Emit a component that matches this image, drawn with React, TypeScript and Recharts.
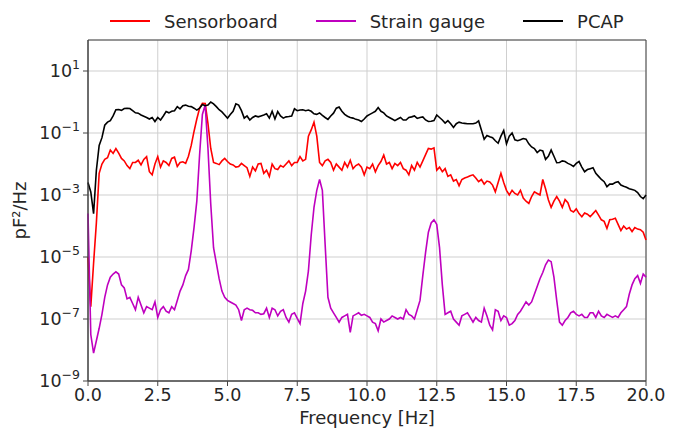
import React from "react";
import {
  LineChart,
  Line,
  XAxis,
  YAxis,
  CartesianGrid,
  ReferenceArea,
} from "recharts";

// power spectral density, stored as log10(pF^2/Hz), sampled every 0.1 Hz from 0 to 20 Hz
const FREQ_STEP = 0.1;

const SENSOR_LOG = [
  -5.0, -6.6, -5.2, -3.9, -2.3, -2.0, -1.85, -1.8, -1.55, -1.66,
  -1.5, -1.65, -1.82, -1.9, -2.05, -2.15, -1.95, -1.95, -1.88, -2.03,
  -1.85, -1.76, -2.25, -2.35, -2.0, -1.76, -2.1, -1.9, -1.95, -2.05,
  -1.82, -1.78, -2.08, -1.95, -1.93, -1.98, -1.75, -1.4, -0.95, -0.55,
  -0.2, -0.04, -0.05, -0.7, -1.5, -1.95, -1.98, -2.02, -1.9, -1.82,
  -1.92, -2.0, -2.03, -2.1, -2.08, -1.98, -2.05, -2.12, -2.4, -2.1,
  -2.22, -2.0, -1.98, -2.3, -2.2, -2.4, -2.0, -2.15, -2.18, -2.05,
  -2.1, -2.0, -1.9, -2.05, -1.95, -1.95, -1.76, -1.9, -1.85, -1.1,
  -0.9, -0.65, -1.1, -1.95, -2.05, -1.9, -1.85, -1.95, -2.2, -2.0,
  -2.1, -2.2, -1.95, -2.1, -1.88, -2.15, -2.05, -2.0, -2.1, -2.35,
  -2.1, -2.15, -2.0, -2.25, -2.05, -1.92, -1.71, -2.0, -1.95, -2.15,
  -1.98, -2.05, -1.95, -2.15, -2.2, -2.35, -2.05, -2.2, -1.95, -2.1,
  -1.9, -1.7, -1.5, -1.52, -1.48, -2.2, -2.1, -2.25, -2.15, -2.4,
  -2.35, -2.55, -2.5, -2.7, -2.5, -2.45, -2.42, -2.38, -2.35, -2.45,
  -2.57, -2.5, -2.65, -2.55, -2.58, -2.68, -2.9, -2.6, -2.3, -2.6,
  -2.85, -3.0, -2.85, -2.95, -3.0, -2.85, -3.1, -3.2, -3.27, -3.05,
  -2.9, -2.95, -3.0, -2.5, -2.8, -3.15, -3.4, -3.2, -3.05, -3.2,
  -3.4, -3.15, -3.25, -3.5, -3.55, -3.45, -3.6, -3.7, -3.58, -3.62,
  -3.7, -3.6, -3.5, -3.65, -3.8, -3.85, -4.08, -3.8, -3.78, -3.75,
  -3.95, -4.15, -4.0, -4.1, -4.05, -4.18, -4.05, -4.1, -4.12, -4.2,
  -4.45,
];

const STRAIN_LOG = [
  -3.6, -7.5, -8.1, -7.7, -7.3, -6.85, -6.3, -5.9, -5.65, -5.55,
  -5.48, -5.55, -5.9, -6.0, -6.35, -6.3, -6.5, -6.7, -6.3, -6.55,
  -6.8, -6.6, -6.65, -6.7, -6.45, -6.95, -6.7, -6.6, -6.75, -6.8,
  -6.6, -6.7, -6.4, -6.1, -5.9, -5.6, -5.4, -4.8, -4.05, -3.2,
  -1.7, -0.4, -0.1, -1.5, -3.3, -4.7, -5.2, -5.7, -6.1, -6.3,
  -6.4, -6.45, -6.5, -6.55, -6.7, -7.05, -6.7, -6.65, -6.7, -6.72,
  -6.8, -6.8, -6.85, -6.83, -6.65, -6.95, -6.65, -6.7, -6.9, -6.75,
  -6.7, -6.95, -7.1, -6.85, -6.8, -6.98, -7.15, -6.5, -6.1, -5.45,
  -4.3, -3.4, -2.85, -2.5, -2.85, -4.6, -6.3, -6.65, -6.8, -6.95,
  -7.1, -6.95, -6.9, -6.85, -7.43, -6.9, -6.85, -6.8, -6.88, -6.85,
  -6.9, -6.95, -7.1, -7.15, -7.38, -7.0, -7.1, -7.05, -7.0, -6.9,
  -6.95, -7.0, -6.95, -7.0, -6.7, -6.85, -6.9, -7.0, -6.7, -6.4,
  -5.6, -4.85, -4.2, -3.9, -3.8, -3.95, -4.7, -5.9, -6.85, -6.8,
  -6.75, -7.0, -7.1, -7.2, -6.9, -6.85, -6.8, -6.95, -7.1, -6.95,
  -7.05, -7.1, -6.65, -6.9, -7.2, -7.35, -6.7, -6.75, -7.05, -6.9,
  -6.95, -7.2, -7.15, -7.05, -6.85, -6.75, -6.6, -6.45, -6.55, -6.45,
  -6.2, -5.95, -5.7, -5.5, -5.25, -5.1, -5.15, -5.65, -6.4, -7.1,
  -7.2, -7.05, -6.95, -6.8, -6.75, -6.85, -6.9, -6.85, -6.95, -6.95,
  -6.8, -6.8, -6.95, -6.75, -6.9, -6.95, -6.85, -6.9, -6.95, -6.9,
  -6.95, -6.8, -6.7, -6.6, -6.2, -5.9, -5.7, -5.6, -5.85, -5.55,
  -5.65,
];

const PCAP_LOG = [
  -2.6, -2.9, -3.6, -2.2, -1.4, -1.15, -0.75, -0.65, -0.6, -0.45,
  -0.25, -0.24, -0.27, -0.21, -0.2, -0.21, -0.28, -0.35, -0.36, -0.42,
  -0.46, -0.5, -0.55, -0.5, -0.63, -0.5, -0.58, -0.45, -0.31, -0.35,
  -0.3, -0.28, -0.15, -0.22, -0.12, -0.1, -0.14, -0.15, -0.2, -0.26,
  -0.2, -0.08, -0.12, -0.1, 0.0, -0.06, -0.15, -0.25, -0.32, -0.42,
  -0.52, -0.4, -0.3, -0.06, -0.1, -0.28, -0.52, -0.45, -0.58, -0.5,
  -0.45, -0.48, -0.45, -0.42, -0.38, -0.52, -0.3, -0.55, -0.31, -0.45,
  -0.52, -0.48, -0.47, -0.45, -0.22, -0.28, -0.26, -0.25, -0.28, -0.26,
  -0.3, -0.38, -0.4, -0.35, -0.43, -0.5, -0.56, -0.45, -0.36, -0.2,
  -0.16, -0.3, -0.4, -0.46, -0.5, -0.52, -0.56, -0.58, -0.63, -0.55,
  -0.45, -0.4, -0.35, -0.3, -0.18, -0.3, -0.35, -0.45, -0.5, -0.55,
  -0.6, -0.55, -0.5, -0.58, -0.58, -0.5, -0.48, -0.45, -0.53, -0.5,
  -0.48, -0.58, -0.63, -0.62, -0.6, -0.42, -0.5, -0.58, -0.68, -0.6,
  -0.7, -0.82, -0.7, -0.65, -0.68, -0.69, -0.7, -0.7, -0.7, -0.68,
  -0.61, -0.9, -1.2, -1.08, -1.12, -1.15, -1.25, -1.33, -1.1, -0.92,
  -1.35, -1.1, -1.0, -1.22, -1.25, -1.22, -1.18, -1.2, -1.35, -1.45,
  -1.5, -1.63, -1.55, -1.58, -1.85, -1.75, -1.55, -1.75, -1.96, -1.95,
  -1.9, -1.92, -1.98, -2.02, -2.08, -1.98, -1.92, -2.1, -2.25, -2.18,
  -2.15, -2.12, -2.3, -2.4, -2.5, -2.57, -2.73, -2.65, -2.65, -2.6,
  -2.57, -2.68, -2.72, -2.75, -2.8, -2.82, -2.85, -2.92, -3.05, -3.12,
  -3.0,
];

const X_TICKS = [0, 2.5, 5, 7.5, 10, 12.5, 15, 17.5, 20];
const Y_TICKS = [1e-9, 1e-7, 1e-5, 1e-3, 1e-1, 1e1];

const SERIES = [
  { key: "sensor", name: "Sensorboard", color: "#ff0000" },
  { key: "strain", name: "Strain gauge", color: "#bf00bf" },
  { key: "pcap", name: "PCAP", color: "#000000" },
];

const FONT = "DejaVu Sans, sans-serif";
const TEXT = "#262626";

const rows = SENSOR_LOG.map((_, i) => ({
  f: Math.round(i * FREQ_STEP * 10) / 10,
  sensor: 10 ** SENSOR_LOG[i],
  strain: 10 ** STRAIN_LOG[i],
  pcap: 10 ** PCAP_LOG[i],
}));

const LogTick = ({ x, y, payload }: any) => {
  const exp = Math.round(Math.log10(payload.value));
  const sup = exp < 0 ? `\u2212${-exp}` : `${exp}`;
  return (
    <text x={x} y={y + 6} textAnchor="end" fill={TEXT} fontFamily={FONT} fontSize={17.5}>
      <tspan>10</tspan>
      <tspan dy={-8} fontSize={12.5}>{sup}</tspan>
    </text>
  );
};

// legend sits above the axes, outside the plot area
const LegendRow = () => (
  <div
    style={{
      position: "absolute",
      left: 110,
      top: 8,
      height: 26,
      display: "flex",
      alignItems: "center",
      fontFamily: FONT,
      fontSize: 18,
      color: TEXT,
      whiteSpace: "nowrap",
    }}
  >
    {SERIES.map((s) => (
      <div key={s.key} style={{ display: "flex", alignItems: "center", marginRight: 38 }}>
        <svg width={40} height={4} style={{ marginRight: 14 }}>
          <line x1={0} y1={2} x2={40} y2={2} stroke={s.color} strokeWidth={2} />
        </svg>
        <span>{s.name}</span>
      </div>
    ))}
  </div>
);

export default function App() {
  return (
    <div style={{ position: "fixed", left: 0, top: 0, width: 676, height: 429, background: "#fff" }}>
      <LineChart
        width={676}
        height={429}
        data={rows}
        margin={{ top: 40, right: 30, bottom: 0, left: 0 }}
      >
        <CartesianGrid stroke="#cfcfcf" strokeWidth={1} />
        <XAxis
          dataKey="f"
          type="number"
          domain={[0, 20]}
          ticks={X_TICKS}
          tickFormatter={(v: number) => v.toFixed(1)}
          height={48}
          stroke="#444"
          tickSize={5}
          tickMargin={3}
          tick={{ fill: TEXT, fontSize: 17.5, fontFamily: FONT }}
          label={{
            value: "Frequency [Hz]",
            position: "insideBottom",
            offset: 5,
            fill: TEXT,
            fontSize: 18,
            fontFamily: FONT,
          }}
        />
        <YAxis
          scale="log"
          domain={[1e-9, 1e2]}
          ticks={Y_TICKS}
          allowDataOverflow
          width={88}
          stroke="#444"
          tickSize={5}
          tickMargin={3}
          tick={<LogTick />}
          label={{
            value: "pF\u00b2/Hz",
            angle: -90,
            position: "insideLeft",
            offset: 20,
            fill: TEXT,
            fontSize: 18,
            fontFamily: FONT,
            style: { textAnchor: "middle" },
          }}
        />
        <ReferenceArea x1={0} x2={20} y1={1e-9} y2={1e2} fill="none" stroke="#444" strokeWidth={1} />
        {SERIES.map((s) => (
          <Line
            key={s.key}
            dataKey={s.key}
            name={s.name}
            stroke={s.color}
            strokeWidth={1.6}
            dot={false}
            type="linear"
            isAnimationActive={false}
          />
        ))}
      </LineChart>
      <LegendRow />
    </div>
  );
}
